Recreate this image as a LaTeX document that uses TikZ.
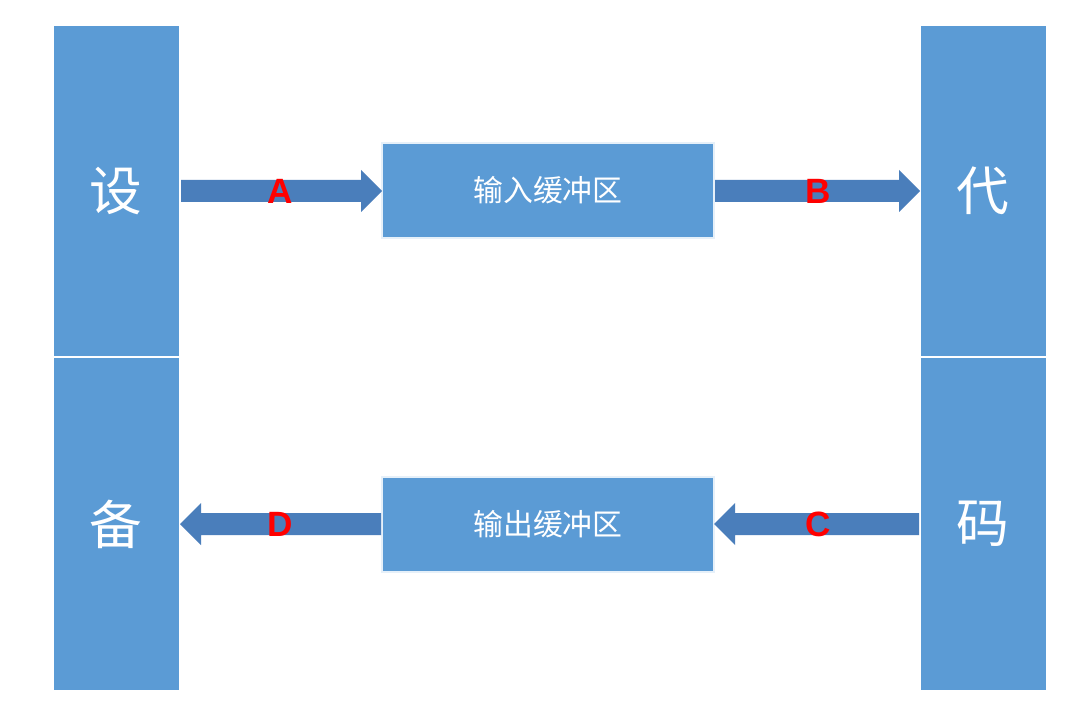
\documentclass[tikz,border=0pt]{standalone}
\usepackage{fontspec}
\setmainfont{Liberation Sans}
\newfontfamily\cjk{Noto Sans CJK SC}
\begin{document}
\begin{tikzpicture}[x=0.02cm,y=-0.02cm,
  bar/.style={fill=barblue,draw=white,line width=0.6pt},
  box/.style={fill=barblue,draw=white!85!barblue,line width=0.6pt},
  big/.style={text=white,font=\cjk\fontsize{30}{30}\selectfont},
  mid/.style={text=white,font=\cjk\fontsize{17}{17}\selectfont},
  lab/.style={text=red,font=\fontsize{20}{20}\selectfont\bfseries}]
\definecolor{barblue}{HTML}{5B9BD5}
\definecolor{arr}{HTML}{4A7EBB}
\useasboundingbox (0,0) rectangle (1077,709);
\fill[white] (0,0) rectangle (1077,709);
% bars
\draw[bar] (53,25) rectangle (180,357);
\draw[bar] (53,357) rectangle (180,691);
\draw[bar] (920,25) rectangle (1047,357);
\draw[bar] (920,357) rectangle (1047,691);
\node[big] (s) at (116,191) {设};
\node[big] (b) at (116,524) {备};
\node[big] (d) at (983,191) {代};
\node[big] (m) at (983,524) {码};
% boxes
\draw[box] (382,143) rectangle (714,238);
\draw[box] (382,477) rectangle (714,572);
\node[mid] (in) at (548,190) {输入缓冲区};
\node[mid] (out) at (548,524) {输出缓冲区};
% arrows
\fill[arr] (181,180) -- (361,180) -- (361,170) -- (382,191) -- (361,212) -- (361,202) -- (181,202) -- cycle;
\fill[arr] (715,180) -- (899,180) -- (899,170) -- (920,191) -- (899,212) -- (899,202) -- (715,202) -- cycle;
\fill[arr] (919,513) -- (735,513) -- (735,503) -- (714,524) -- (735,545) -- (735,535) -- (919,535) -- cycle;
\fill[arr] (381,513) -- (201,513) -- (201,503) -- (180,524) -- (201,545) -- (201,535) -- (381,535) -- cycle;
\node[lab] (la) at (280,191) {A};
\node[lab] (lb) at (818,191) {B};
\node[lab] (lc) at (818,524) {C};
\node[lab] (ld) at (280,524) {D};
\end{tikzpicture}
\end{document}
